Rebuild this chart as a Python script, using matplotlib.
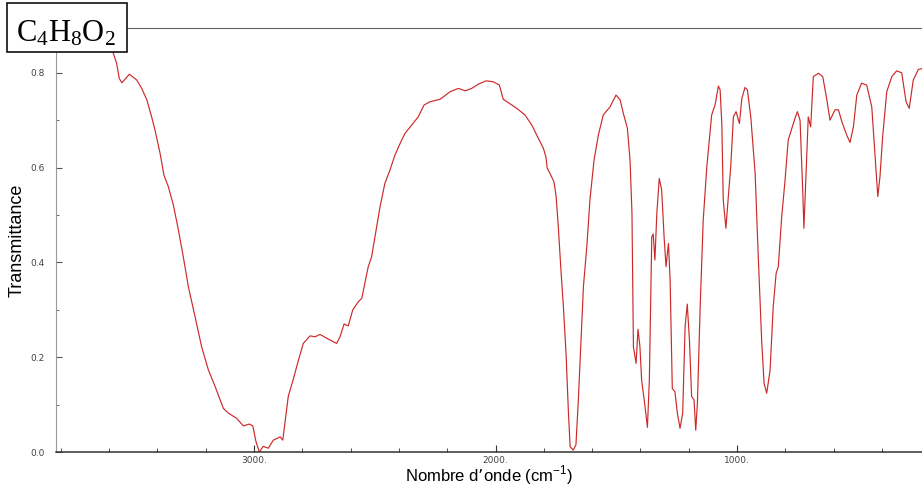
import numpy as np
import matplotlib
matplotlib.use('Agg')
from matplotlib import pyplot as plt
from matplotlib.patches import Rectangle
from matplotlib.ticker import MultipleLocator, FuncFormatter

# spectre IR de C4H8O2
Formula = r'$\mathregular{C_4H_8O_2}$'

Wavenumber = [3820, 3679, 3617, 3585, 3569, 3558, 3547, 3516, 3486, 3465,
              3444, 3424, 3410, 3389, 3373, 3355, 3334, 3313, 3293, 3272,
              3244, 3217, 3189, 3161, 3127, 3106, 3072, 3044, 3019, 3005,
              2992, 2978, 2962, 2941, 2920, 2892, 2881, 2872, 2858, 2837,
              2817, 2796, 2768, 2747, 2727, 2699, 2658, 2644, 2627, 2610,
              2591, 2568, 2554, 2540, 2527, 2513, 2499, 2478, 2458, 2437,
              2416, 2395, 2375, 2347, 2320, 2296, 2271, 2230, 2188, 2154,
              2126, 2099, 2071, 2039, 2009, 1984, 1968, 1947, 1912, 1878,
              1850, 1823, 1802, 1791, 1786, 1771, 1758, 1749, 1740, 1730,
              1719, 1708, 1698, 1691, 1678, 1667, 1657, 1647, 1636, 1622,
              1609, 1592, 1574, 1554, 1526, 1501, 1484, 1471, 1454, 1443,
              1435, 1429, 1418, 1410, 1402, 1395, 1381, 1371, 1363, 1353,
              1347, 1340, 1332, 1322, 1312, 1302, 1294, 1284, 1277, 1268,
              1257, 1247, 1236, 1225, 1215, 1206, 1197, 1188, 1178, 1171,
              1164, 1153, 1140, 1125, 1112, 1105, 1091, 1077, 1070, 1063,
              1057, 1046, 1036, 1026, 1015, 1004, 990, 980, 967, 957,
              943, 925, 912, 898, 888, 877, 863, 850, 838, 829,
              815, 801, 788, 773, 760, 750, 739, 728, 723, 714,
              705, 695, 684, 663, 645, 629, 615, 594, 580, 566,
              546, 532, 518, 504, 484, 463, 442, 429, 417, 408,
              397, 380, 359, 339, 318, 300, 287, 270, 249, 234]

Transmittance = [0.873, 0.869, 0.865, 0.845, 0.820, 0.788, 0.779, 0.797, 0.785, 0.767,
                 0.743, 0.707, 0.679, 0.630, 0.584, 0.560, 0.521, 0.468, 0.412, 0.349,
                 0.285, 0.222, 0.173, 0.138, 0.092, 0.082, 0.071, 0.055, 0.059, 0.055,
                 0.022, 0.000, 0.012, 0.008, 0.025, 0.032, 0.025, 0.061, 0.118, 0.154,
                 0.192, 0.229, 0.245, 0.243, 0.248, 0.240, 0.229, 0.243, 0.270, 0.266,
                 0.300, 0.317, 0.324, 0.359, 0.391, 0.412, 0.454, 0.518, 0.567, 0.595,
                 0.627, 0.651, 0.672, 0.690, 0.707, 0.732, 0.739, 0.744, 0.760, 0.767,
                 0.762, 0.767, 0.776, 0.783, 0.781, 0.774, 0.744, 0.737, 0.725, 0.711,
                 0.690, 0.662, 0.641, 0.622, 0.599, 0.584, 0.570, 0.539, 0.475, 0.391,
                 0.307, 0.208, 0.082, 0.011, 0.004, 0.015, 0.110, 0.222, 0.349, 0.433,
                 0.532, 0.616, 0.669, 0.711, 0.728, 0.753, 0.743, 0.715, 0.683, 0.616,
                 0.504, 0.222, 0.187, 0.259, 0.222, 0.152, 0.096, 0.052, 0.152, 0.454,
                 0.460, 0.405, 0.504, 0.577, 0.553, 0.454, 0.391, 0.440, 0.363, 0.134,
                 0.127, 0.082, 0.050, 0.082, 0.264, 0.312, 0.236, 0.117, 0.110, 0.046,
                 0.103, 0.300, 0.489, 0.602, 0.672, 0.711, 0.732, 0.772, 0.764, 0.693,
                 0.532, 0.472, 0.539, 0.602, 0.707, 0.718, 0.693, 0.746, 0.769, 0.764,
                 0.707, 0.588, 0.412, 0.236, 0.145, 0.124, 0.173, 0.307, 0.377, 0.391,
                 0.496, 0.574, 0.658, 0.683, 0.704, 0.718, 0.700, 0.553, 0.472, 0.588,
                 0.707, 0.686, 0.792, 0.799, 0.792, 0.746, 0.700, 0.722, 0.722, 0.697,
                 0.669, 0.653, 0.686, 0.753, 0.778, 0.774, 0.728, 0.630, 0.539, 0.581,
                 0.665, 0.760, 0.792, 0.804, 0.800, 0.739, 0.725, 0.785, 0.807, 0.809]

assert len(Wavenumber) == len(Transmittance)

W, H = 922, 486
Fig = plt.figure(figsize=(W / 100, H / 100), dpi=100)
Ax = Fig.add_axes([56 / W, (H - 452) / H, (922 - 56) / W, (452 - 28) / H])

Ax.plot(Wavenumber, Transmittance, color='#cc2a2a', lw=0.85)
Ax.set_xlim(3820, 234)
Ax.set_ylim(0, 0.8945)

Ax.spines['right'].set_visible(False)
Ax.spines['top'].set_color('#666666')
Ax.spines['left'].set_color('#999999')
Ax.spines['bottom'].set_color('#333333')
Ax.spines['bottom'].set_linewidth(1.1)

Ax.xaxis.set_major_locator(MultipleLocator(1000))
Ax.xaxis.set_minor_locator(MultipleLocator(200))
Ax.yaxis.set_major_locator(MultipleLocator(0.2))
Ax.yaxis.set_minor_locator(MultipleLocator(0.1))
Ax.xaxis.set_major_formatter(FuncFormatter(lambda v, p: '%d.' % v))
Ax.yaxis.set_major_formatter(FuncFormatter(lambda v, p: '%.1f' % v))

Ax.tick_params(axis='x', which='major', direction='in', length=5, color='#333333',
               labelsize=6.5, labelcolor='#444444', pad=3)
Ax.tick_params(axis='x', which='minor', direction='in', length=2.6, color='#333333')
Ax.tick_params(axis='y', which='major', direction='in', length=4, color='#555555',
               labelsize=6.5, labelcolor='#444444', pad=8)
Ax.tick_params(axis='y', which='minor', direction='in', length=2.2, color='#555555')
Ax.tick_params(top=False, right=False)

Ax.set_ylabel('Transmittance', fontsize=13, family='Liberation Sans')
Ax.yaxis.set_label_coords((26 - 56) / 866, 0.499)
Ax.set_xlabel('Nombre d\u2019onde (cm$^{\\mathregular{-1}}$)', fontsize=12, family='Liberation Sans')
Ax.xaxis.set_label_coords(0.5, -0.027)

# boite de la formule
Box = Rectangle((7 / W, 1 - 52 / H), 120 / W, 49 / H, transform=Fig.transFigure,
                facecolor='white', edgecolor='#111111', lw=1.2, zorder=5)
Fig.patches.append(Box)
Fig.text(66 / W, 1 - 42 / H, Formula, fontsize=22, family='Liberation Serif',
         ha='center', va='baseline', zorder=6)

Fig.savefig('out.png', dpi=100)
